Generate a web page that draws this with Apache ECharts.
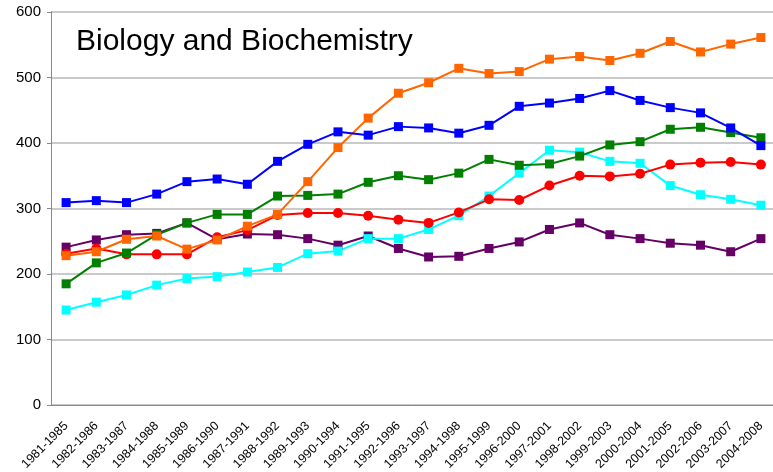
<!DOCTYPE html>
<html>
<head>
<meta charset="utf-8">
<script src="https://cdn.jsdelivr.net/npm/echarts@6/dist/echarts.min.js"></script>
<style>
  html, body { margin: 0; padding: 0; background: #fff; }
  #chart { width: 773px; height: 472px; }
</style>
</head>
<body>
<div id="chart"></div>
<script>
var periods = ['1981-1985', '1982-1986', '1983-1987', '1984-1988', '1985-1989', '1986-1990',
  '1987-1991', '1988-1992', '1989-1993', '1990-1994', '1991-1995', '1992-1996',
  '1993-1997', '1994-1998', '1995-1999', '1996-2000', '1997-2001', '1998-2002',
  '1999-2003', '2000-2004', '2001-2005', '2002-2006', '2003-2007', '2004-2008'];

var blueData   = [309, 312, 309, 322, 341, 345, 337, 372, 398, 417, 412, 425, 423, 415, 427, 456, 461, 468, 480, 465, 454, 446, 423, 396];
var orangeData = [228, 234, 253, 258, 238, 252, 273, 291, 341, 393, 438, 476, 492, 514, 506, 509, 528, 532, 526, 537, 555, 539, 551, 561];
var greenData  = [185, 217, 232, 260, 278, 291, 291, 319, 320, 322, 340, 350, 344, 354, 375, 366, 368, 380, 397, 402, 421, 424, 416, 408];
var cyanData   = [145, 157, 168, 183, 193, 196, 203, 210, 231, 235, 254, 254, 268, 289, 319, 354, 389, 386, 372, 369, 335, 321, 314, 305];
var redData    = [231, 239, 230, 230, 230, 256, 267, 290, 293, 293, 289, 283, 278, 294, 314, 313, 335, 350, 349, 353, 367, 370, 371, 367];
var purpleData = [241, 252, 260, 262, 278, 253, 261, 260, 254, 244, 258, 239, 226, 227, 239, 249, 268, 278, 260, 254, 247, 244, 234, 254];

var chart = echarts.init(document.getElementById('chart'));

function line(data, color, symbol, size) {
  return {
    type: 'line',
    data: data,
    symbol: symbol,
    symbolSize: size,
    lineStyle: { color: color, width: 2 },
    itemStyle: { color: color },
    animation: false
  };
}

var option = {
  animation: false,
  textStyle: { fontFamily: 'Liberation Sans, Arial, sans-serif' },
  title: {
    text: 'Biology and Biochemistry',
    left: 71,
    top: 22,
    textStyle: { fontSize: 30, fontWeight: 'normal', color: '#000', fontFamily: 'Liberation Sans' }
  },
  grid: { left: 51, right: -3, top: 12, bottom: 67, containLabel: false, outerBoundsMode: 'none' },
  xAxis: {
    type: 'category',
    data: periods,
    boundaryGap: true,
    axisLine: { lineStyle: { color: '#888', width: 1 } },
    axisTick: { alignWithLabel: true, length: 4, lineStyle: { color: '#888' } },
    axisLabel: { rotate: 45, fontSize: 12.5, color: '#000', margin: 19, interval: 0, fontFamily: 'Liberation Sans' }
  },
  yAxis: {
    type: 'value',
    min: 0,
    max: 600,
    interval: 100,
    axisLine: { show: true, lineStyle: { color: '#888', width: 1 } },
    axisTick: { show: true, length: 4, lineStyle: { color: '#888' } },
    axisLabel: { fontSize: 15, color: '#000', margin: 10, fontFamily: 'Liberation Sans' },
    splitLine: { lineStyle: { color: '#b8b8b8', width: 1.5 } }
  },
  series: [
    line(purpleData, '#660066', 'rect', 9),
    line(cyanData, '#00ffff', 'rect', 9),
    line(redData, '#ff0000', 'circle', 10),
    line(greenData, '#007f00', 'rect', 9),
    line(orangeData, '#ff6600', 'rect', 9),
    line(blueData, '#0000ff', 'rect', 9)
  ]
};

chart.setOption(option);
</script>
</body>
</html>
